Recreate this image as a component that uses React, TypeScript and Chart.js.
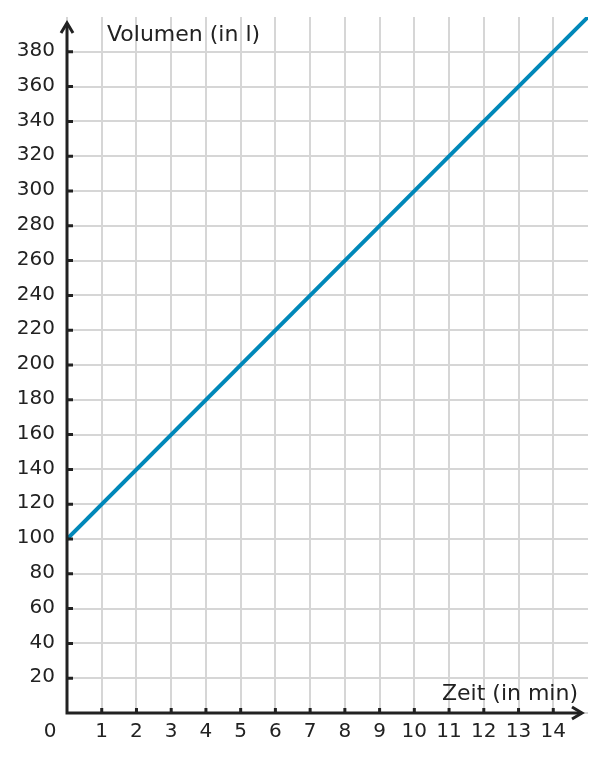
import { useEffect, useRef } from "react";
import { Chart, registerables } from "chart.js";

Chart.register(...registerables);

const timeMin = [0, 15];
const volumeL = [100, 400];
const xTickValues = [1, 2, 3, 4, 5, 6, 7, 8, 9, 10, 11, 12, 13, 14];
const yTickValues = [20, 40, 60, 80, 100, 120, 140, 160, 180, 200, 220, 240, 260, 280, 300, 320, 340, 360, 380];
const xTitle = "Zeit (in min)";
const yTitle = "Volumen (in l)";
const originLabel = "0";

const X_MAX = 15;
const Y_MAX = 400;

const axesPlugin = {
  id: "customAxes",
  afterDatasetsDraw(chart: any) {
    const ctx = chart.ctx as CanvasRenderingContext2D;
    const xs = chart.scales.x;
    const ys = chart.scales.y;
    const area = chart.chartArea;
    const x0 = xs.getPixelForValue(0);
    const y0 = ys.getPixelForValue(0);
    const dark = "#222222";
    ctx.save();
    ctx.strokeStyle = dark;
    ctx.fillStyle = dark;
    ctx.lineWidth = 3;
    ctx.lineCap = "butt";
    ctx.lineJoin = "miter";

    const yTip = area.top + 6;
    const xTip = area.right - 6;

    // axes
    ctx.beginPath();
    ctx.moveTo(x0, yTip);
    ctx.lineTo(x0, y0);
    ctx.lineTo(xTip, y0);
    ctx.stroke();

    // arrow heads
    ctx.beginPath();
    ctx.moveTo(x0 - 6, yTip + 10);
    ctx.lineTo(x0, yTip);
    ctx.lineTo(x0 + 6, yTip + 10);
    ctx.stroke();
    ctx.beginPath();
    ctx.moveTo(xTip - 10, y0 - 6);
    ctx.lineTo(xTip, y0);
    ctx.lineTo(xTip - 10, y0 + 6);
    ctx.stroke();

    // tick marks
    ctx.beginPath();
    for (const v of yTickValues) {
      const p = ys.getPixelForValue(v);
      ctx.moveTo(x0, p);
      ctx.lineTo(x0 + 6, p);
    }
    for (const v of xTickValues) {
      const p = xs.getPixelForValue(v);
      ctx.moveTo(p, y0);
      ctx.lineTo(p, y0 - 5);
    }
    ctx.stroke();

    // tick labels
    ctx.font = "20px 'DejaVu Sans'";
    ctx.textAlign = "right";
    ctx.textBaseline = "middle";
    for (const v of yTickValues) {
      ctx.fillText(String(v), x0 - 12, ys.getPixelForValue(v) - 1);
    }
    ctx.textAlign = "center";
    for (const v of xTickValues) {
      ctx.fillText(String(v), xs.getPixelForValue(v), y0 + 19);
    }
    ctx.fillText(originLabel, x0 - 17, y0 + 19);

    // titles
    ctx.font = "22px 'DejaVu Sans'";
    ctx.textBaseline = "alphabetic";
    ctx.textAlign = "left";
    ctx.fillText(yTitle, x0 + 40, area.top + 24);
    ctx.textAlign = "right";
    ctx.fillText(xTitle, area.right - 10, y0 - 13);
    ctx.restore();
  },
};

export default function App() {
  const canvasRef = useRef<HTMLCanvasElement | null>(null);

  useEffect(() => {
    if (!canvasRef.current) return;
    const gridColor = (value: number, max: number) =>
      value === max ? "rgba(0,0,0,0)" : "#d6d6d6";
    const chart = new Chart(canvasRef.current, {
      type: "line",
      data: {
        datasets: [
          {
            data: timeMin.map((t, i) => ({ x: t, y: volumeL[i] })),
            borderColor: "#0088b9",
            borderWidth: 4,
            pointRadius: 0,
            fill: false,
            tension: 0,
          },
        ],
      },
      options: {
        animation: false,
        responsive: false,
        devicePixelRatio: 1,
        layout: { padding: { left: 67, right: 18, top: 17, bottom: 48 } },
        plugins: { legend: { display: false }, tooltip: { enabled: false } },
        scales: {
          x: {
            type: "linear",
            min: 0,
            max: X_MAX,
            ticks: { display: false, stepSize: 1 },
            grid: {
              drawTicks: false,
              lineWidth: 2,
              color: (c: any) => gridColor(c.tick?.value, X_MAX),
            },
            border: { display: false },
          },
          y: {
            type: "linear",
            min: 0,
            max: Y_MAX,
            ticks: { display: false, stepSize: 20 },
            grid: {
              drawTicks: false,
              lineWidth: 2,
              color: (c: any) => gridColor(c.tick?.value, Y_MAX),
            },
            border: { display: false },
          },
        },
      },
      plugins: [axesPlugin],
    });
    return () => chart.destroy();
  }, []);

  return (
    <div style={{ position: "absolute", left: 0, top: 0, width: 606, height: 761, background: "#ffffff" }}>
      <canvas ref={canvasRef} width={606} height={761} />
    </div>
  );
}
